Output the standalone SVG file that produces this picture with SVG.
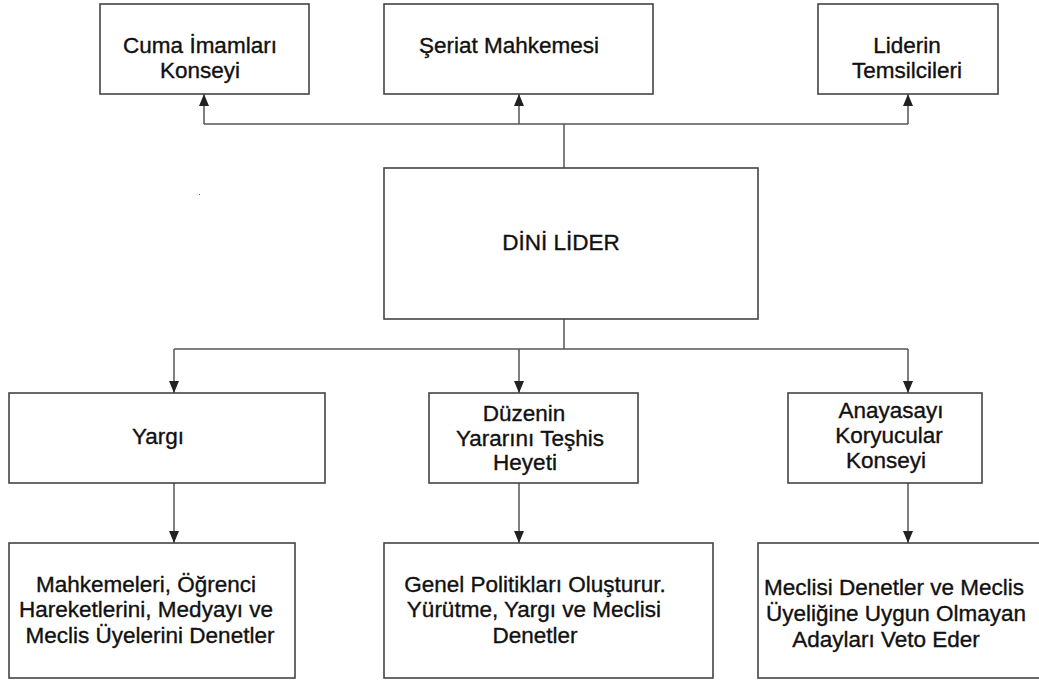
<svg xmlns="http://www.w3.org/2000/svg" width="1039" height="682" viewBox="0 0 1039 682">
<style>
.box{fill:#fff;stroke:#444;stroke-width:1.6}
.t{font-family:"Liberation Sans",Arial,sans-serif;font-size:22.5px;fill:#111;stroke:#111;stroke-width:0.35;text-anchor:middle}
.c{fill:none;stroke:#555;stroke-width:1.5}
</style>
<defs>
<marker id="ah" viewBox="0 0 12 10" refX="12" refY="5" markerWidth="12" markerHeight="10" markerUnits="userSpaceOnUse" orient="auto">
<path d="M0,0 L12,5 L0,10 z" fill="#222"/>
</marker>
</defs>
<rect width="1039" height="682" fill="#fff"/>
<g id="connectors">
<path class="c" d="M564,168 V124"/>
<path class="c" d="M204,124 H908"/>
<path class="c" d="M204,124 V94" marker-end="url(#ah)"/>
<path class="c" d="M519,124 V94" marker-end="url(#ah)"/>
<path class="c" d="M908,124 V94" marker-end="url(#ah)"/>
<path class="c" d="M564,319 V349"/>
<path class="c" d="M174,349 H908"/>
<path class="c" d="M174,349 V393" marker-end="url(#ah)"/>
<path class="c" d="M519,349 V393" marker-end="url(#ah)"/>
<path class="c" d="M908,349 V393" marker-end="url(#ah)"/>
<path class="c" d="M174,483 V543" marker-end="url(#ah)"/>
<path class="c" d="M519,483 V543" marker-end="url(#ah)"/>
<path class="c" d="M908,483 V543" marker-end="url(#ah)"/>
</g>
<g id="cuma">
<rect class="box" x="100" y="4" width="209" height="90"/>
<text class="t" x="200" y="53">Cuma İmamları</text>
<text class="t" x="200" y="78">Konseyi</text>
</g>
<g id="seriat">
<rect class="box" x="384" y="4" width="269" height="90"/>
<text class="t" x="509" y="53">Şeriat Mahkemesi</text>
</g>
<g id="liderin">
<rect class="box" x="818" y="4" width="180" height="90"/>
<text class="t" x="907" y="53">Liderin</text>
<text class="t" x="907" y="78">Temsilcileri</text>
</g>
<g id="dini-lider">
<rect class="box" x="384" y="168" width="374" height="151"/>
<text class="t" x="561" y="250">DİNİ LİDER</text>
</g>
<g id="yargi">
<rect class="box" x="9" y="393" width="316" height="90"/>
<text class="t" x="158" y="444">Yargı</text>
</g>
<g id="duzenin">
<rect class="box" x="429" y="393" width="209" height="90"/>
<text class="t" x="524" y="421">Düzenin</text>
<text class="t" x="530" y="446">Yararını Teşhis</text>
<text class="t" x="525" y="470">Heyeti</text>
</g>
<g id="anayasayi">
<rect class="box" x="788" y="393" width="194" height="90"/>
<text class="t" x="891" y="418">Anayasayı</text>
<text class="t" x="889" y="443">Koryucular</text>
<text class="t" x="886" y="468">Konseyi</text>
</g>
<g id="mahkemeleri">
<rect class="box" x="9" y="543" width="286" height="135"/>
<text class="t" x="146" y="592">Mahkemeleri, Öğrenci</text>
<text class="t" x="146" y="617">Hareketlerini, Medyayı ve</text>
<text class="t" x="150" y="643">Meclis Üyelerini Denetler</text>
</g>
<g id="genel">
<rect class="box" x="384" y="543" width="329" height="135"/>
<text class="t" x="535" y="592">Genel Politikları Oluşturur.</text>
<text class="t" x="534" y="617">Yürütme, Yargı ve Meclisi</text>
<text class="t" x="535" y="643">Denetler</text>
</g>
<g id="meclisi">
<rect class="box" x="758" y="543" width="300" height="135"/>
<text class="t" x="894" y="595">Meclisi Denetler ve Meclis</text>
<text class="t" x="896" y="621">Üyeliğine Uygun Olmayan</text>
<text class="t" x="886" y="647">Adayları Veto Eder</text>
</g>
<rect x="199" y="194" width="1" height="1" fill="#666"/>
</svg>
